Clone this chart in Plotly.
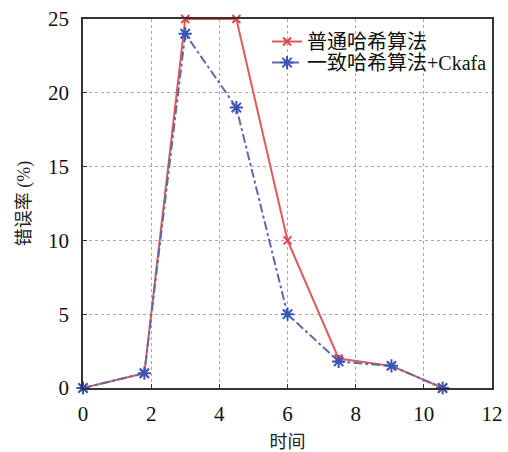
import plotly.graph_objects as go

time_x = [0, 1.8, 3, 4.5, 6, 7.5, 9.05, 10.55]
normal_hash = [0, 1, 25, 25, 10, 2, 1.5, 0]
consistent_hash = [0, 1, 24, 19, 5, 1.8, 1.5, 0]
series_names = ["普通哈希算法", "一致哈希算法+Ckafa"]
x_ticks = [0, 2, 4, 6, 8, 10, 12]
y_ticks = [0, 5, 10, 15, 20, 25]

FONT = "Liberation Serif, Noto Sans CJK SC, serif"

fig = go.Figure()
fig.add_trace(go.Scatter(
    x=time_x, y=normal_hash, name=series_names[0], mode="lines+markers",
    line=dict(color="#e05a5a", width=2),
    marker=dict(symbol="x-thin-open", size=8, color="#e04848", line=dict(width=2, color="#e04848")),
    cliponaxis=False, legend="legend",
))
fig.add_trace(go.Scatter(
    x=time_x, y=consistent_hash, name=series_names[1], mode="lines+markers",
    line=dict(color="#5a6ca6", width=2, dash="dashdot"),
    marker=dict(symbol="asterisk-open", size=11, color="#3a55b8", line=dict(width=2, color="#3a55b8")),
    cliponaxis=False, legend="legend2",
))

axis_common = dict(
    showline=True, linecolor="#333333", linewidth=1.5, mirror=True,
    showgrid=True, gridcolor="#a8a8a8", griddash="dot", gridwidth=1,
    ticks="inside", ticklen=4, tickcolor="#333333",
    zeroline=False, automargin=False, ticklabeloverflow="allow",
    tickfont=dict(family=FONT, size=21, color="#111111"),
)

legend_common = dict(
    xanchor="left", yanchor="middle", bgcolor="rgba(0,0,0,0)", borderwidth=0,
    font=dict(family=FONT, size=20, color="#111111"),
)

fig.update_layout(
    width=508, height=452,
    margin=dict(l=83, r=16, t=19, b=64),
    paper_bgcolor="white", plot_bgcolor="white",
    font=dict(family=FONT, size=20, color="#222222"),
    xaxis=dict(range=[0, 12], tickvals=x_ticks, ticklabelstandoff=6,
               title=dict(text="时间", font=dict(family=FONT, size=18), standoff=20),
               **axis_common),
    yaxis=dict(range=[0, 25], tickvals=y_ticks, ticklabelstandoff=8,
               title=dict(text="错误率 (%)", font=dict(family=FONT, size=18), standoff=13),
               **axis_common),
    legend=dict(x=0.45, y=0.939, **legend_common),
    legend2=dict(x=0.45, y=0.882, **legend_common),
    showlegend=True,
)

# white backdrop behind the legend (covers gridlines only, like the reference)
fig.add_shape(type="rect", xref="paper", yref="paper",
              x0=0.405, x1=0.997, y0=0.843, y1=0.997,
              fillcolor="white", line=dict(width=0), layer="between")

fig.write_html("out.html", config={"displayModeBar": False},
               post_script="document.body.style.margin='0';document.body.style.overflow='hidden';")
